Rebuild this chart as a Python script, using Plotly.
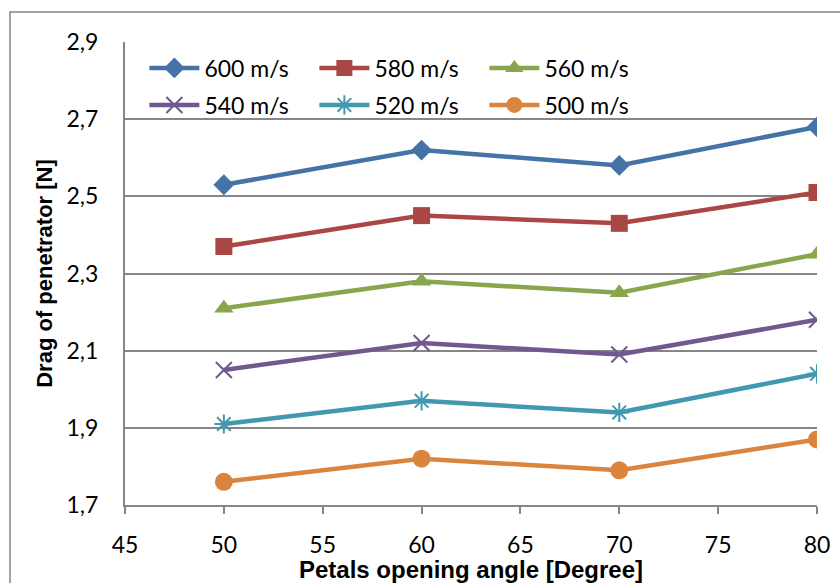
import plotly.graph_objects as go

angles = [50, 60, 70, 80]
series_names = ["600 m/s", "580 m/s", "560 m/s", "540 m/s", "520 m/s", "500 m/s"]
v600 = [2.53, 2.62, 2.58, 2.68]
v580 = [2.37, 2.45, 2.43, 2.51]
v560 = [2.21, 2.28, 2.25, 2.35]
v540 = [2.05, 2.12, 2.09, 2.18]
v520 = [1.91, 1.97, 1.94, 2.04]
v500 = [1.76, 1.82, 1.79, 1.87]
values = [v600, v580, v560, v540, v520, v500]

colors = ["#4572A7", "#AA4643", "#89A54E", "#71588F", "#4198AF", "#DB843D"]
symbols = ["diamond", "square", "triangle-up", "x-thin", "asterisk", "circle"]
sizes = [16, 17, 17, 16, 16, 18]
legends = ["legend", "legend", "legend", "legend2", "legend2", "legend2"]

fig = go.Figure()
for name, vals, c, s, sz, lg in zip(series_names, values, colors, symbols, sizes, legends):
    thin = s in ("x-thin", "asterisk")
    fig.add_trace(go.Scatter(
        x=angles, y=vals, name=name, mode="lines+markers",
        line=dict(color=c, width=4.5),
        marker=dict(symbol=s, size=sz, color=c,
                    line=dict(color=c, width=2 if thin else 0)),
        legend=lg,
    ))

tick_font = dict(family="Lato, Open Sans, sans-serif", size=23, color="#000000")
leg_font = dict(family="Lato, Open Sans, sans-serif", size=23, color="#000000")
xtitle_font = dict(family="Liberation Sans, Arial, sans-serif", size=24, color="#000000")
ytitle_font = dict(family="Liberation Sans, Arial, sans-serif", size=22, color="#000000")
gray = "#868686"

leg_common = dict(orientation="h", font=leg_font, bgcolor="rgba(0,0,0,0)",
                  entrywidth=105, entrywidthmode="pixels", xanchor="left",
                  yanchor="middle", traceorder="normal", itemwidth=50)

fig.update_layout(
    width=840, height=583,
    margin=dict(l=125, r=23, t=42, b=78),
    paper_bgcolor="white", plot_bgcolor="white",
    separators=", ",
    showlegend=True,
    legend=dict(x=0.028, y=0.944, **leg_common),
    legend2=dict(x=0.028, y=0.864, **leg_common),
    xaxis=dict(range=[45, 80], dtick=5, tick0=45, showgrid=False,
               showline=True, linecolor=gray, linewidth=2,
               ticks="outside", ticklen=7, tickcolor=gray, tickwidth=2,
               tickfont=tick_font, ticklabelstandoff=11, automargin=False,
               title=dict(text="<b>Petals opening angle [Degree]</b>", font=xtitle_font, standoff=6),
               zeroline=False),
    yaxis=dict(range=[1.7, 2.9], dtick=0.2, tick0=1.7, showgrid=True,
               gridcolor=gray, gridwidth=2,
               showline=True, linecolor=gray, linewidth=2,
               ticks="", tickfont=tick_font, tickformat=".1f",
               ticklabelstandoff=20, automargin=False,
               title=dict(text="<b>Drag of penetrator [N]</b>", font=ytitle_font, standoff=8),
               zeroline=False),
    shapes=[dict(type="rect", xref="paper", yref="paper",
                 x0=(10 - 125) / 692, x1=(850 - 125) / 692,
                 y0=(505 - 600) / 463, y1=(505 - 12) / 463,
                 line=dict(color=gray, width=1.5), fillcolor="rgba(0,0,0,0)", layer="below")],
)

fig.write_html("out.html")
